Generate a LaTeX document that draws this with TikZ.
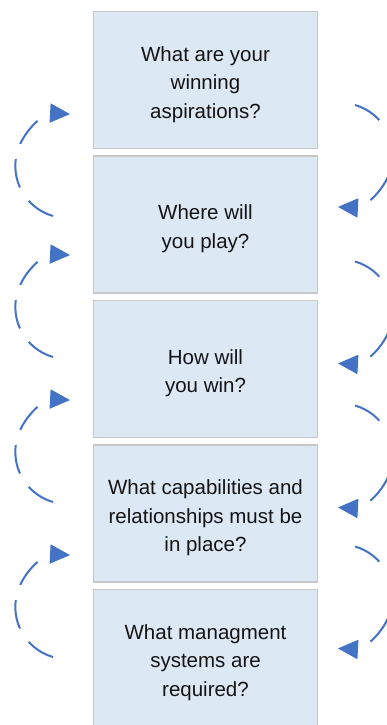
\documentclass[tikz,border=0pt]{standalone}
\usepackage{fontspec}
\setmainfont{Liberation Sans}
\definecolor{cascade_fill}{RGB}{221, 232, 245}
\definecolor{cascade_edge}{RGB}{200, 200, 200}
\definecolor{cascade_blue}{RGB}{68, 114, 196}
\definecolor{cascade_text}{RGB}{20, 20, 20}
\usetikzlibrary{arrows.meta}
\newcommand{\topstrut}{\rule{0pt}{23.5pt}}

\begin{document}
\begin{tikzpicture}[
        x=1pt, y=-1pt,
        every node/.style={font=\fontsize{20.5}{28.5}\selectfont, text=cascade_text},
        box/.style={draw=cascade_edge, line width=1.5pt, fill=cascade_fill, minimum width=224pt, minimum height=137pt, inner sep=0pt, align=center},
        cyclearc/.style={cascade_blue, line width=2pt, dash pattern=on 29pt off 16pt, -{Triangle[length=20pt, width=19pt]}},
      ]
        \useasboundingbox (0,0) rectangle (387,725);

        \node[box] (aspire)  at (205.5,80)    {\topstrut What are your\\winning\\aspirations?};
        \node[box] (play)    at (205.5,224.5) {\topstrut Where will\\you play?};
        \node[box] (win)     at (205.5,369)   {\topstrut How will\\you win?};
        \node[box] (capable) at (205.5,513.5) {\topstrut What capabilities and\\relationships must be\\in place?};
        \node[box] (manage)  at (205.5,658)   {\topstrut What managment\\systems are\\required?};

        % left side: back up to the box above
        \coordinate (back1) at (53,216);
        \coordinate (back2) at (53,357);
        \coordinate (back3) at (53,502);
        \coordinate (back4) at (53,657);
        \draw[cyclearc] (back1) arc[start angle=106, end angle=273, radius=52];
        \draw[cyclearc] (back2) arc[start angle=106, end angle=273, radius=52];
        \draw[cyclearc] (back3) arc[start angle=106, end angle=273, radius=52];
        \draw[cyclearc] (back4) arc[start angle=106, end angle=273, radius=52];

        % right side: on down to the box below
        \coordinate (fwd1) at (355,105);
        \coordinate (fwd2) at (355,261.5);
        \coordinate (fwd3) at (355,405.5);
        \coordinate (fwd4) at (355,546.5);
        \draw[cyclearc] (fwd1) arc[start angle=-74, end angle=93, radius=52];
        \draw[cyclearc] (fwd2) arc[start angle=-74, end angle=93, radius=52];
        \draw[cyclearc] (fwd3) arc[start angle=-74, end angle=93, radius=52];
        \draw[cyclearc] (fwd4) arc[start angle=-74, end angle=93, radius=52];
      \end{tikzpicture}
\end{document}
